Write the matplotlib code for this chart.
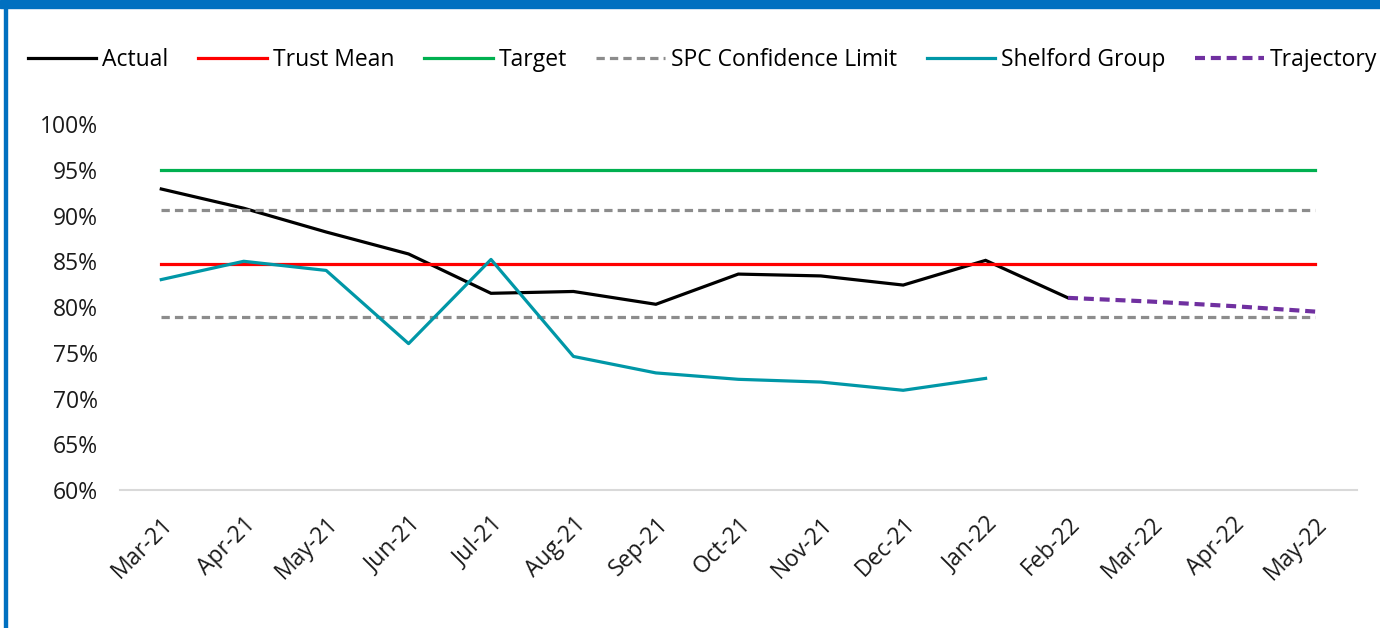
import matplotlib
matplotlib.use("Agg")
import matplotlib.pyplot as plt
from matplotlib.patches import Rectangle
from matplotlib.ticker import FuncFormatter

# data
months = ["Mar-21", "Apr-21", "May-21", "Jun-21", "Jul-21", "Aug-21", "Sep-21",
          "Oct-21", "Nov-21", "Dec-21", "Jan-22", "Feb-22", "Mar-22", "Apr-22",
          "May-22"]
actual = [92.9, 90.8, 88.2, 85.8, 81.5, 81.7, 80.3, 83.6, 83.4, 82.4, 85.1, 81.0]
shelford = [83.0, 85.0, 84.0, 76.0, 85.2, 74.6, 72.8, 72.1, 71.8, 70.9, 72.2]
trajectory = [81.0, 80.6, 80.1, 79.5]
trust_mean = 84.7
target = 95.0
spc_upper = 90.6
spc_lower = 78.9

plt.rcParams["font.family"] = ["Open Sans", "DejaVu Sans"]

fig = plt.figure(figsize=(13.8, 6.28), dpi=100)
ax = fig.add_axes([0.087, 0.2197, 0.896, 0.5828])

x_all = list(range(len(months)))
n = len(months)

ax.plot(x_all[:len(actual)], actual, color="black", lw=2.3, label="Actual",
        solid_joinstyle="miter")
ax.plot(x_all, [trust_mean] * n, color="#FF0000", lw=2.3, label="Trust Mean")
ax.plot(x_all, [target] * n, color="#00B050", lw=2.3, label="Target")
ax.plot(x_all, [spc_upper] * n, color="#8C8C8C", lw=2.3, dashes=(2.6, 1.6),
        label="SPC Confidence Limit")
ax.plot(x_all, [spc_lower] * n, color="#8C8C8C", lw=2.3, dashes=(2.6, 1.6))
ax.plot(x_all[:len(shelford)], shelford, color="#0097A7", lw=2.3,
        label="Shelford Group")
start = len(actual) - 1
ax.plot(x_all[start:start + len(trajectory)], trajectory, color="#7030A0",
        lw=3.0, dashes=(2.4, 1.4), label="Trajectory")

ax.set_xlim(-0.5, n - 0.5)
ax.set_ylim(60, 100)
ax.set_yticks(range(60, 101, 5))
ax.yaxis.set_major_formatter(FuncFormatter(lambda v, p: f"{v:.0f}%"))
ax.set_xticks(x_all)
ax.set_xticklabels(months, rotation=45, ha="right", rotation_mode="anchor")
ax.tick_params(axis="both", length=0, labelsize=16.5, colors="#1a1a1a")
ax.tick_params(axis="x", pad=16)
ax.tick_params(axis="y", pad=16)

for side in ["top", "right", "left"]:
    ax.spines[side].set_visible(False)
ax.spines["bottom"].set_color("#D9D9D9")
ax.spines["bottom"].set_linewidth(1.5)

fig.legend(loc="center", bbox_to_anchor=(0.509, 0.905), ncol=6, frameon=False,
           fontsize=16.5, handlelength=3.0, handletextpad=0.25,
           columnspacing=1.3)

# blue frame strips
fig.patches.append(Rectangle((0, 1 - 8 / 628), 1, 8 / 628,
                             transform=fig.transFigure, color="#0070C0"))
fig.patches.append(Rectangle((4 / 1380, 0), 3 / 1380, 1,
                             transform=fig.transFigure, color="#0070C0"))

fig.savefig("out.png", dpi=100)
